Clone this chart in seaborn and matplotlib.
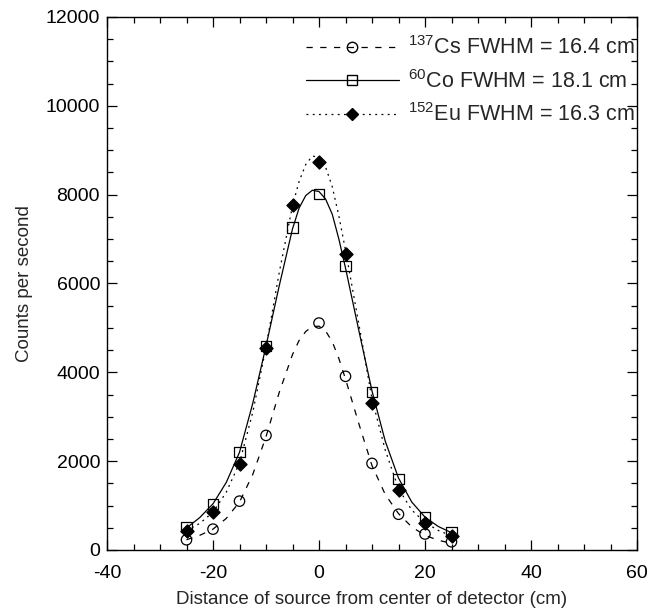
import numpy as np
import pandas as pd
import matplotlib
matplotlib.use("Agg")
import matplotlib.pyplot as plt
from matplotlib.lines import Line2D
from matplotlib.ticker import MultipleLocator
import seaborn as sns

# ---- data ----
pos_cs = [-25, -20, -15, -10, 0, 5, 10, 15, 20, 25]
cps_cs = [230, 470, 1100, 2580, 5110, 3910, 1950, 805, 360, 185]

pos_all = [-25, -20, -15, -10, -5, 0, 5, 10, 15, 20, 25]
cps_co = [513, 1034, 2204, 4588, 7260, 8015, 6400, 3562, 1600, 740, 407]
cps_eu = [422, 845, 1932, 4543, 7773, 8739, 6671, 3305, 1351, 619, 317]

# fitted curves
fit_x = [-25, -22.5, -20, -17.5, -15, -12.5, -10, -7.5, -5, -3.75, -2.5, -1.25,
         0, 1.25, 2.5, 3.75, 5, 7.5, 10, 12.5, 15, 17.5, 20, 22.5, 25]
fit_cs = [230, 330, 470, 710, 1080, 1700, 2550, 3550, 4400, 4720, 4920, 5030,
          5040, 4930, 4690, 4310, 3850, 2850, 1900, 1250, 820, 520, 330, 220, 150]
fit_co = [495, 730, 1040, 1520, 2200, 3300, 4590, 5950, 7230, 7700, 7980, 8100,
          8070, 7900, 7560, 7000, 6350, 4950, 3580, 2450, 1620, 1080, 740, 530, 390]
fit_eu = [430, 600, 850, 1300, 1960, 3100, 4560, 6250, 7750, 8300, 8680, 8870,
          8840, 8620, 8180, 7520, 6750, 5100, 3400, 2250, 1380, 900, 620, 440, 320]

labels = [r"$^{137}$Cs FWHM = 16.4 cm",
          r"$^{60}$Co FWHM = 18.1 cm",
          r"$^{152}$Eu FWHM = 16.3 cm"]

xlabel = "Distance of source from center of detector (cm)"
ylabel = "Counts per second"

# ---- style ----
sns.set_style("ticks")
plt.rcParams['font.family'] = ['Liberation Sans', 'DejaVu Sans']
plt.rcParams['mathtext.fontset'] = 'custom'
plt.rcParams['mathtext.rm'] = 'Liberation Sans'
plt.rcParams['mathtext.it'] = 'Liberation Sans'
plt.rcParams['axes.unicode_minus'] = False

FS_TICK = 14
FS_LAB = 13.5
FS_LEG = 15.5
LW = 0.9
dash_cs = (0, (5, 6))
dash_eu = (0, (1.5, 3.5))

fig = plt.figure(figsize=(6.54, 6.14), dpi=100)
ax = fig.add_axes([107/654, 1 - 550/614, (637-107)/654, (550-17)/614])

sns.lineplot(x=fit_x, y=fit_cs, ax=ax, color='black', linewidth=LW, linestyle=dash_cs)
sns.lineplot(x=fit_x, y=fit_co, ax=ax, color='black', linewidth=LW, linestyle='-')
sns.lineplot(x=fit_x, y=fit_eu, ax=ax, color='black', linewidth=LW, linestyle=dash_eu)

MS = 56
sns.scatterplot(x=pos_cs, y=cps_cs, ax=ax, marker='o', s=MS, facecolors='none',
                edgecolors='black', linewidths=LW, zorder=3)
sns.scatterplot(x=pos_all, y=cps_co, ax=ax, marker='s', s=MS, facecolors='none',
                edgecolors='black', linewidths=LW, zorder=3)
sns.scatterplot(x=pos_all, y=cps_eu, ax=ax, marker='D', s=MS*0.8, color='black',
                edgecolors='black', linewidths=LW, zorder=4)

ax.set_xlim(-40, 60)
ax.set_ylim(0, 12000)
ax.xaxis.set_major_locator(MultipleLocator(20))
ax.xaxis.set_minor_locator(MultipleLocator(5))
ax.yaxis.set_major_locator(MultipleLocator(2000))
ax.yaxis.set_minor_locator(MultipleLocator(500))
ax.tick_params(which='both', direction='in', top=True, right=True, colors='black',
               labelsize=FS_TICK, width=0.9)
ax.tick_params(which='major', length=7.5)
ax.tick_params(which='minor', length=4)
ax.tick_params(axis='y', which='major', pad=5)
ax.tick_params(axis='x', which='major', pad=11)
for sp in ax.spines.values():
    sp.set_visible(True)
    sp.set_linewidth(1.0)
    sp.set_color('black')

ax.set_xlabel(xlabel, fontsize=FS_LAB, labelpad=6)
ax.set_ylabel(ylabel, fontsize=FS_LAB, labelpad=9)

handles = [
    Line2D([], [], color='black', lw=LW, linestyle=dash_cs, marker='o',
           markersize=7.5, markerfacecolor='none', markeredgecolor='black'),
    Line2D([], [], color='black', lw=LW, linestyle='-', marker='s',
           markersize=7.5, markerfacecolor='none', markeredgecolor='black'),
    Line2D([], [], color='black', lw=LW, linestyle=dash_eu, marker='D',
           markersize=6.5, markerfacecolor='black', markeredgecolor='black'),
]
ax.legend(handles, labels, loc='upper right', bbox_to_anchor=(1.0, 1 - 17/533),
          frameon=False, fontsize=FS_LEG,
          handlelength=4.3, handletextpad=0.45, labelspacing=0.5,
          borderaxespad=0.0, borderpad=0.1, numpoints=1)

fig.savefig("out.png", dpi=100)
